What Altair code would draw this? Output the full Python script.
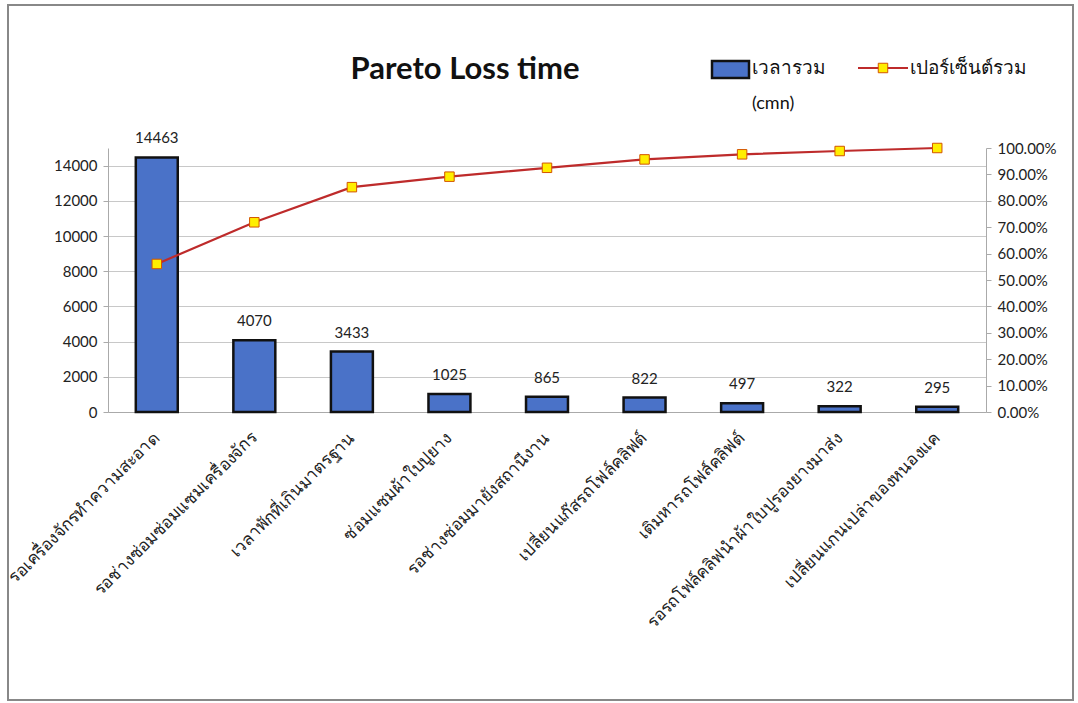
import altair as alt
import pandas as pd

categories = [
    "รอเครื่องจักรทำความสะอาด",
    "รอช่างซ่อมซ่อมแซมเครื่องจักร",
    "เวลาพักที่เกินมาตรฐาน",
    "ซ่อมแซมผ้าใบปูยาง",
    "รอช่างซ่อมมายังสถานีงาน",
    "เปลี่ยนแก๊สรถโฟล์คลิฟต์",
    "เติมหารถโฟล์คลิฟต์",
    "รอรถโฟล์คลิฟนำผ้าใบปูรองยางมาส่ง",
    "เปลี่ยนแกนเปล่าของหนองแค",
]
minutes = [14463, 4070, 3433, 1025, 865, 822, 497, 322, 295]
cum_pct = [0.5608, 0.7186, 0.8517, 0.8914, 0.9250, 0.9568, 0.9761, 0.9886, 1.0]
left_ticks = [0, 2000, 4000, 6000, 8000, 10000, 12000, 14000]
right_ticks = [0.0, 0.1, 0.2, 0.3, 0.4, 0.5, 0.6, 0.7, 0.8, 0.9, 1.0]

df = pd.DataFrame({"cat": categories, "minutes": minutes, "cum": cum_pct})

FONT = "Lato"
W, H = 878, 264

xenc = alt.X(
    "cat:N", sort=None, title=None,
    scale=alt.Scale(paddingInner=0.57, paddingOuter=0.285),
    axis=alt.Axis(labelAngle=-45, labelAlign="right", labelBaseline="middle",
                  labelPadding=23, labelFontSize=17, labelColor="#222",
                  labelFont="Noto Sans", labelLimit=400, ticks=False,
                  domainColor="#aaaaaa", labelOverlap=False),
)

yleft = alt.Y(
    "minutes:Q", title=None,
    scale=alt.Scale(domain=[0, 15000], nice=False),
    axis=alt.Axis(orient="left", values=left_ticks, tickCount=8, grid=True,
                  gridColor="#c8c8c8",
                  labelFontSize=15, labelColor="#222", labelFont=FONT,
                  domainColor="#aaaaaa", tickColor="#aaaaaa", tickSize=5,
                  labelPadding=6, format="d", labelOverlap=False),
)

yright = alt.Y(
    "cum:Q", title=None,
    scale=alt.Scale(domain=[0, 1], nice=False),
    axis=alt.Axis(orient="right", values=right_ticks, tickCount=11, format=".2%",
                  grid=False,
                  labelFontSize=15, labelColor="#222", labelFont=FONT,
                  domainColor="#aaaaaa", tickColor="#aaaaaa", tickSize=5,
                  labelPadding=6, labelOverlap=False),
)

base = alt.Chart(df)

bars = base.mark_bar(color="#4a72c8", stroke="#111111", strokeWidth=2.5).encode(
    x=xenc, y=yleft
)
bar_text = base.mark_text(dy=-11, fontSize=15, font=FONT, color="#222",
                          baseline="bottom").encode(
    x=xenc, y=yleft, text=alt.Text("minutes:Q", format="d")
)
left_layer = alt.layer(bars, bar_text)

line = base.mark_line(color="#be2b2b", strokeWidth=2.2).encode(
    x=xenc, y=yright
)
pts = base.mark_point(shape="square", size=90, filled=True, fill="#ffee00",
                      stroke="#d35400", strokeWidth=1, opacity=1).encode(
    x=xenc, y=yright
)
right_layer = alt.layer(line, pts)

one = pd.DataFrame({"k": [0]})

title = alt.Chart(one).mark_text(text="Pareto Loss time", font=FONT, fontSize=31,
                                  fontWeight="bold", color="#111", align="center",
                                  baseline="middle").encode(
    x=alt.value(357), y=alt.value(-78))

leg_rect = alt.Chart(one).mark_rect(fill="#4a72c8", stroke="#111", strokeWidth=2.5).encode(
    x=alt.value(604), x2=alt.value(641), y=alt.value(-87), y2=alt.value(-70))
leg_t1 = alt.Chart(one).mark_text(text="เวลารวม", font="Noto Sans", fontSize=19,
                                  color="#111", align="left", baseline="middle").encode(
    x=alt.value(644), y=alt.value(-80))
leg_t2 = alt.Chart(one).mark_text(text="(cmn)", font=FONT, fontSize=18,
                                  color="#111", align="left", baseline="middle").encode(
    x=alt.value(644), y=alt.value(-44))
leg_line = alt.Chart(one).mark_rule(color="#be2b2b", strokeWidth=2.2).encode(
    x=alt.value(750), x2=alt.value(800), y=alt.value(-80))
leg_pt = alt.Chart(one).mark_point(shape="square", size=90, filled=True, fill="#ffee00",
                                   stroke="#d35400", strokeWidth=1, opacity=1).encode(
    x=alt.value(775), y=alt.value(-80))
leg_t3 = alt.Chart(one).mark_text(text="เปอร์เซ็นต์รวม", font="Noto Sans", fontSize=19,
                                  color="#111", align="left", baseline="middle").encode(
    x=alt.value(802), y=alt.value(-80))

frame = alt.Chart(one).mark_rect(fill=None, stroke="#888888", strokeWidth=2).encode(
    x=alt.value(-100), x2=alt.value(965), y=alt.value(-143), y2=alt.value(552))

chart = alt.layer(
    left_layer, right_layer, title, leg_rect, leg_t1, leg_t2, leg_line, leg_pt, leg_t3, frame
).resolve_scale(y="independent").properties(
    width=W, height=H,
    autosize=alt.AutoSizeParams(type="none"),
    padding={"left": 108, "top": 148, "right": 92, "bottom": 291},
    background="white",
).configure_view(stroke=None)

chart.save("out.html", embed_options={"renderer": "svg", "actions": False})
